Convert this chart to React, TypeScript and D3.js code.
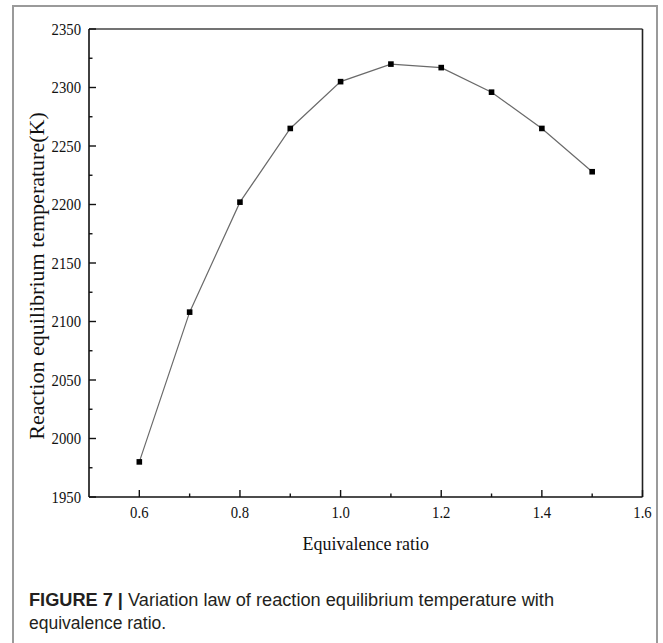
import React from "react";
import * as d3 from "d3";

const ratios = [0.6, 0.7, 0.8, 0.9, 1.0, 1.1, 1.2, 1.3, 1.4, 1.5];
const temps = [1980, 2108, 2202, 2265, 2305, 2320, 2317, 2296, 2265, 2228];
const xMajorTicks = [0.6, 0.8, 1.0, 1.2, 1.4, 1.6];
const xMinorTicks = [0.7, 0.9, 1.1, 1.3, 1.5];
const yMajorTicks = [1950, 2000, 2050, 2100, 2150, 2200, 2250, 2300, 2350];
const yMinorTicks = [1975, 2025, 2075, 2125, 2175, 2225, 2275, 2325];
const xTitle = "Equivalence ratio";
const yTitle = "Reaction equilibrium temperature(K)";
const captionBold = "FIGURE 7 |";
const captionLine1 = " Variation law of reaction equilibrium temperature with";
const captionLine2 = "equivalence ratio.";

const W = 663;
const H = 643;
const left = 89;
const right = 642.5;
const top = 29;
const bottom = 497;

export default function App() {
  const x = d3.scaleLinear().domain([0.5, 1.6]).range([left, right]);
  const y = d3.scaleLinear().domain([1950, 2350]).range([bottom, top]);
  const line = d3
    .line<number>()
    .x((_, i) => x(ratios[i]))
    .y((d) => y(d));
  const serif = "'Liberation Serif', 'Times New Roman', serif";
  const sans = "'Liberation Sans', Arial, sans-serif";
  return (
    <svg
      width={W}
      height={H}
      style={{ position: "absolute", left: 0, top: 0, background: "#fff" }}
    >
      <rect x={0} y={0} width={W} height={H} fill="#fff" />
      {/* outer frame */}
      <path d={`M13,${H} V6 H657 V${H}`} fill="none" stroke="#9a9a9a" strokeWidth={2} />

      {/* plot box */}
      <line x1={left} x2={right} y1={top} y2={top} stroke="#444" strokeWidth={1.6} />
      <line x1={right} x2={right} y1={top} y2={bottom} stroke="#222" strokeWidth={1.6} />
      <line x1={left} x2={left} y1={top} y2={bottom} stroke="#111" strokeWidth={1.6} />
      <line x1={left} x2={right} y1={bottom} y2={bottom} stroke="#111" strokeWidth={1.6} />

      {/* y ticks */}
      {yMajorTicks.map((t) => (
        <g key={"ym" + t}>
          <line x1={left} x2={left + 7} y1={y(t)} y2={y(t)} stroke="#111" strokeWidth={1.4} />
          <g transform={`translate(${left - 8}, ${y(t)}) scale(0.95, 1.08)`}>
            <text
              dy="0.35em"
              textAnchor="end"
              fontFamily={serif}
              fontSize={15.5}
              fill="#111"
            >
              {t}
            </text>
          </g>
        </g>
      ))}
      {yMinorTicks.map((t) => (
        <line key={"yn" + t} x1={left} x2={left + 3.5} y1={y(t)} y2={y(t)} stroke="#111" strokeWidth={1.4} />
      ))}

      {/* x ticks */}
      {xMajorTicks.map((t) => (
        <g key={"xm" + t}>
          <line x1={x(t)} x2={x(t)} y1={bottom} y2={bottom - 7} stroke="#111" strokeWidth={1.4} />
          <g transform={`translate(${x(t)}, 518) scale(0.95, 1.08)`}>
            <text textAnchor="middle" fontFamily={serif} fontSize={15.5} fill="#111">
              {t.toFixed(1)}
            </text>
          </g>
        </g>
      ))}
      {xMinorTicks.map((t) => (
        <line key={"xn" + t} x1={x(t)} x2={x(t)} y1={bottom} y2={bottom - 3.5} stroke="#111" strokeWidth={1.4} />
      ))}

      {/* data */}
      <path d={line(temps) || ""} fill="none" stroke="#6a6a6a" strokeWidth={1.2} />
      {temps.map((v, i) => (
        <rect
          key={"p" + i}
          x={x(ratios[i]) - 2.8}
          y={y(v) - 2.8}
          width={5.6}
          height={5.6}
          fill="#000"
        />
      ))}

      {/* titles */}
      <g transform={`translate(${(left + right) / 2}, 550) scale(1, 1.1)`}>
        <text textAnchor="middle" fontFamily={serif} fontSize={18} fill="#111">
          {xTitle}
        </text>
      </g>
      <text
        transform={`translate(44, 276) rotate(-90)`}
        textAnchor="middle"
        fontFamily={serif}
        fontSize={22}
        fill="#111"
      >
        {yTitle}
      </text>

      {/* caption */}
      <text
        x={29}
        y={606}
        fontFamily={sans}
        fontSize={17.5}
        fill="#231f20"
        textLength={525}
        lengthAdjust="spacingAndGlyphs"
      >
        <tspan fontWeight="bold">{captionBold}</tspan>
        <tspan>{captionLine1}</tspan>
      </text>
      <text x={29} y={629} fontFamily={sans} fontSize={17.5} fill="#231f20">
        {captionLine2}
      </text>
    </svg>
  );
}
